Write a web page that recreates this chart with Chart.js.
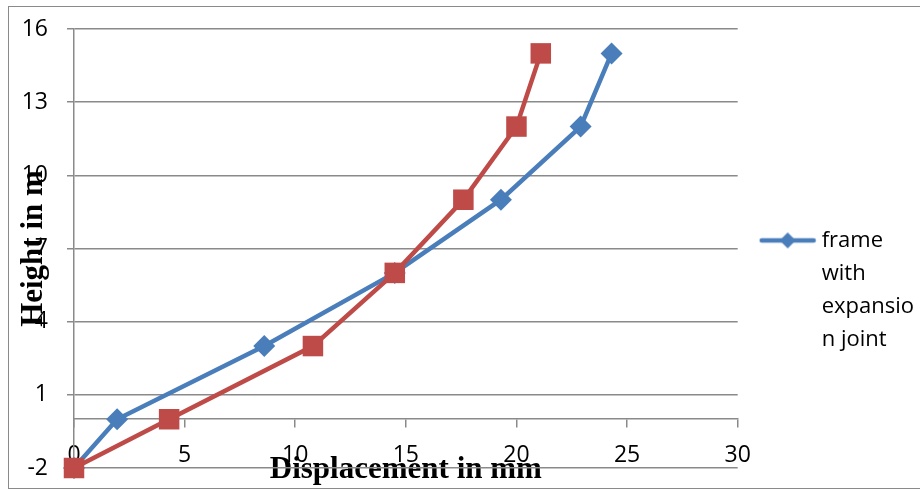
<!DOCTYPE html>
<html>
<head>
<meta charset="utf-8">
<script src="https://cdn.jsdelivr.net/npm/chart.js@4/dist/chart.umd.min.js"></script>
<style>
  body { margin: 0; background: #fff; }
  #wrap { position: relative; width: 920px; height: 491px; overflow: hidden; }
  #frame { position: absolute; left: 8px; top: 6px; width: 940px; height: 483px; border: 1px solid #8a8a8a; box-sizing: border-box; }
  #chart { position: absolute; left: 0; top: 0; }
</style>
</head>
<body>
<div id="wrap">
  <div id="frame"></div>
  <canvas id="chart" width="920" height="491"></canvas>
</div>
<script>
// heights (m) and displacements (mm)
const heights = [-2, 0, 3, 6, 9, 12, 15];
const dispWithJoint = [0, 1.95, 8.6, 14.5, 19.3, 22.9, 24.3];
const dispWithoutJoint = [0, 4.3, 10.8, 14.5, 17.6, 20.0, 21.1];
const legendText = ['frame', 'with', 'expansio', 'n joint'];

const BLUE = '#4a7ebb';
const RED = '#be4b48';
const GRID = '#8a8a8a';

const toPoints = (xs) => xs.map((x, i) => ({ x: x, y: heights[i] }));

// legend swatch: line with a diamond in the middle, like Excel
function swatch() {
    const c = document.createElement('canvas');
    c.width = 58; c.height = 18;
    const g = c.getContext('2d');
    g.strokeStyle = BLUE;
    g.lineWidth = 4.5;
    g.lineCap = 'round';
    g.beginPath(); g.moveTo(3, 9); g.lineTo(55, 9); g.stroke();
    g.fillStyle = BLUE;
    g.beginPath(); g.moveTo(29, 1); g.lineTo(37, 9); g.lineTo(29, 17); g.lineTo(21, 9); g.closePath(); g.fill();
    return c;
}

new Chart(document.getElementById('chart'), {
    type: 'scatter',
    data: {
        datasets: [
            {
                label: 'frame with expansion joint',
                data: toPoints(dispWithJoint),
                showLine: true,
                clip: false,
                borderColor: BLUE,
                backgroundColor: BLUE,
                borderWidth: 4.5,
                pointStyle: 'rectRot',
                pointRadius: 11,
                pointHoverRadius: 11,
                pointBorderWidth: 0,
                order: 1
            },
            {
                label: 'frame without expansion joint',
                data: toPoints(dispWithoutJoint),
                showLine: true,
                clip: false,
                borderColor: RED,
                backgroundColor: RED,
                borderWidth: 4.5,
                pointStyle: 'rect',
                pointRadius: 14.5,
                pointHoverRadius: 14.5,
                pointBorderWidth: 0,
                order: 0
            }
        ]
    },
    options: {
        responsive: false,
        animation: false,
        layout: { padding: { left: 0, top: 29, bottom: 23, right: -4 } },
        plugins: {
            tooltip: { enabled: false },
            legend: {
                position: 'right',
                align: 'start',
                title: { display: true, text: '', padding: { top: 159, bottom: 0 } },
                labels: {
                    usePointStyle: true,
                    pointStyleWidth: 46,
                    padding: 27,
                    color: '#000',
                    font: { family: 'Open Sans', size: 22, lineHeight: 1.5 },
                    filter: (item) => item.datasetIndex === 0,
                    generateLabels: (chart) => [{
                        text: legendText,
                        pointStyle: swatch(),
                        fillStyle: BLUE,
                        strokeStyle: BLUE,
                        fontColor: '#000',
                        lineWidth: 0,
                        datasetIndex: 0
                    }]
                }
            }
        },
        scales: {
            x: {
                type: 'linear',
                min: 0,
                max: 30,
                position: { y: 0 },
                z: 1,
                grid: { drawOnChartArea: false, color: GRID, tickLength: 8, lineWidth: 1.5 },
                border: { color: GRID, width: 1.5 },
                ticks: { stepSize: 5, padding: 14, color: '#000', font: { family: 'Open Sans', size: 23 } },
                title: {
                    display: true,
                    text: 'Displacement in mm',
                    color: '#000',
                    font: { family: 'Liberation Serif', size: 31, weight: 'bold' },
                    padding: { top: -31, bottom: 0 }
                }
            },
            y: {
                type: 'linear',
                min: -2,
                max: 16,
                afterFit: (s) => { s.width = 74; s.paddingTop = 0; s.paddingBottom = 0; },
                grid: { color: GRID, tickLength: 7, lineWidth: 1.5 },
                border: { color: GRID, width: 1.5 },
                ticks: { stepSize: 3, padding: 19, color: '#000', font: { family: 'Open Sans', size: 23 } },
                title: {
                    display: true,
                    text: 'Height in m',
                    color: '#000',
                    font: { family: 'Liberation Serif', size: 31, weight: 'bold' },
                    padding: { top: 15, bottom: 0 }
                }
            }
        }
    }
});
</script>
</body>
</html>
